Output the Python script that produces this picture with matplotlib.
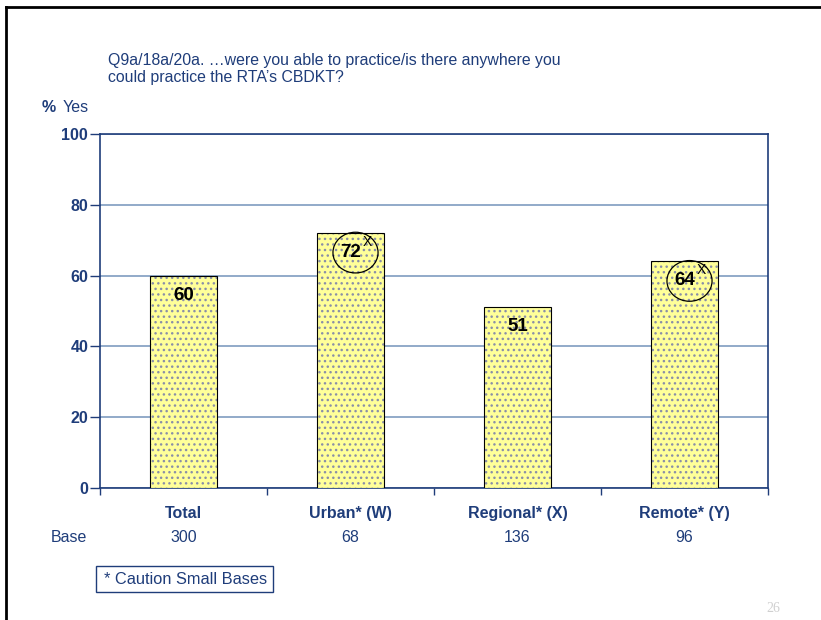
import matplotlib
matplotlib.use("Agg")
import matplotlib.pyplot as plt
from matplotlib.patches import Ellipse, Rectangle
from matplotlib.lines import Line2D

plt.rcParams["font.family"] = ["Liberation Sans", "DejaVu Sans"]

# data
categories = ["Total", "Urban* (W)", "Regional* (X)", "Remote* (Y)"]
pct_yes = [60, 72, 51, 64]
bases = [300, 68, 136, 96]
sig_flags = ["", "X", "", "X"]   # significantly higher than column X

NAVY = "#1f3d7a"
GRID = "#7f9cc0"
FILL = "#ffff99"
DOTS = "#8a8fa8"

AX_L, AX_R, AX_T, AX_B = 100, 768, 134, 488   # plot area, pixels

fig = plt.figure(figsize=(8.21, 6.20), dpi=100)
ax = fig.add_axes([AX_L / 821, 1 - AX_B / 620,
                   (AX_R - AX_L) / 821, (AX_B - AX_T) / 620])

x = list(range(len(categories)))
# hatched fill first, then a plain black outline on top
ax.bar(x, pct_yes, width=0.4, color=FILL, edgecolor=DOTS, hatch="...",
       linewidth=0, zorder=3)
ax.bar(x, pct_yes, width=0.4, fill=False, edgecolor="black", linewidth=0.8,
       zorder=4)

ax.set_xlim(-0.5, len(categories) - 0.5)
ax.set_ylim(0, 100)
ax.set_yticks(range(0, 101, 20))
ax.yaxis.grid(True, color=GRID, linewidth=1.2, zorder=1)
ax.set_axisbelow(True)
for s in ax.spines.values():
    s.set_color(NAVY)
    s.set_linewidth(1.2)
ax.tick_params(axis="y", colors=NAVY, length=7, width=1, direction="out",
               labelsize=11.5, pad=1.5)
for lab in ax.get_yticklabels():
    lab.set_fontweight("bold")
ax.set_xticks([i - 0.5 for i in range(len(categories) + 1)])
ax.set_xticklabels([])
ax.tick_params(axis="x", colors=NAVY, length=5, width=1, direction="out")

# value labels, circled where significant
for i, (v, flag) in enumerate(zip(pct_yes, sig_flags)):
    ax.text(i, v - 5.5, str(v), ha="center", va="center", fontsize=13.5,
            fontweight="bold", color="black", zorder=6)
    if flag:
        ax.add_patch(Ellipse((i + 0.03, v - 5.5), width=0.27, height=11.5,
                             fill=False, edgecolor="black", linewidth=0.9,
                             zorder=6))
        ax.text(i + 0.1, v - 2.4, flag, ha="center", va="center",
                fontsize=10, color="black", zorder=6)

# category names and bases under the axis
step = (AX_R - AX_L) / len(categories)
for i, (c, b) in enumerate(zip(categories, bases)):
    cx = (AX_L + step * (i + 0.5)) / 821
    fig.text(cx, 1 - 518 / 620, c, ha="center", va="baseline",
             fontsize=11.5, fontweight="bold", color=NAVY)
    fig.text(cx, 1 - 542 / 620, str(b), ha="center", va="baseline",
             fontsize=11.5, color=NAVY)
fig.text(69 / 821, 1 - 542 / 620, "Base", ha="center", va="baseline",
         fontsize=11.5, color=NAVY)

# question text and axis caption
fig.text(108 / 821, 1 - 69 / 620,
         "Q9a/18a/20a. \u2026were you able to practice/is there anywhere you\n"
         "could practice the RTA\u2019s CBDKT?",
         ha="left", va="center", fontsize=11.4, color=NAVY, linespacing=1.15)
fig.text(42 / 821, 1 - 107 / 620, "%", ha="left", va="center", fontsize=11.5,
         fontweight="bold", color=NAVY)
fig.text(63 / 821, 1 - 107 / 620, "Yes", ha="left", va="center",
         fontsize=11.5, color=NAVY)

# caution note box
fig.patches.append(Rectangle((96 / 821, 1 - 592 / 620), 177 / 821, 26 / 620,
                             transform=fig.transFigure, fill=False,
                             edgecolor=NAVY, linewidth=1))
fig.text(104 / 821, 1 - 579 / 620, "* Caution Small Bases", ha="left",
         va="center", fontsize=11.8, color=NAVY)

# page number and slide frame
fig.text(773 / 821, 1 - 608 / 620, "26", ha="center", va="center",
         fontsize=10, color="#d0d0d0", family="Liberation Serif")
fig.lines.append(Line2D([6 / 821, 1.0], [1 - 7 / 620, 1 - 7 / 620],
                        transform=fig.transFigure, color="black", lw=2))
fig.lines.append(Line2D([6 / 821, 6 / 821], [1 - 7 / 620, 0.0],
                        transform=fig.transFigure, color="black", lw=2))

fig.savefig("out.png", dpi=100)
